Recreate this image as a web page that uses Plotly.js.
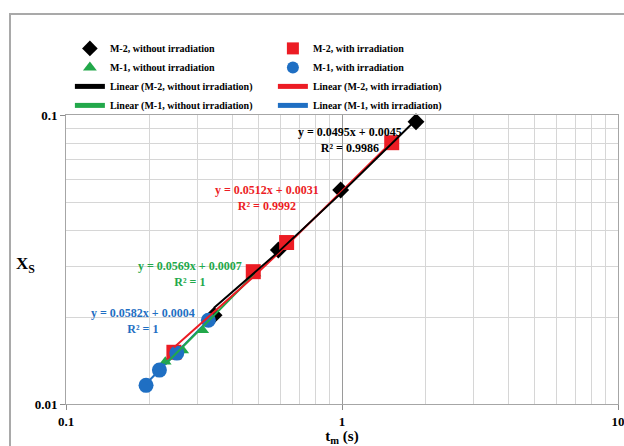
<!DOCTYPE html>
<html>
<head>
<meta charset="utf-8">
<script src="https://cdn.plot.ly/plotly-3.0.1.min.js"></script>
<style>
  html, body { margin: 0; padding: 0; background: #fff; overflow: hidden; }
  #wrap { position: relative; width: 624px; height: 446px; }
  #frame { position: absolute; left: 9px; top: 13px; width: 700px; height: 500px;
           border-left: 2px solid #a9a9a9; border-top: 2px solid #a9a9a9; pointer-events: none; }
  #chart { position: absolute; left: 0; top: 0; width: 624px; height: 446px; }
</style>
</head>
<body>
<div id="wrap">
  <div id="chart"></div>
  <div id="frame"></div>
</div>
<script>
// ---- data ----
const m2NoIrrT = [0.344, 0.588, 0.989, 1.854];
const m2NoIrrX = [0.0203, 0.0341, 0.0550, 0.0948];
const m2IrrT   = [0.246, 0.477, 0.630, 1.514];
const m2IrrX   = [0.0151, 0.0287, 0.0362, 0.0802];
const m1NoIrrT = [0.229, 0.265, 0.313, 0.484];
const m1NoIrrX = [0.0140, 0.0153, 0.0180, 0.0283];
const m1IrrT   = [0.195, 0.218, 0.252, 0.328];
const m1IrrX   = [0.0116, 0.0131, 0.0150, 0.0195];

const seriesNames = ["M-2, without irradiation", "M-2, with irradiation",
                     "M-1, without irradiation", "M-1, with irradiation"];
const trendSlopes     = [0.0495, 0.0512, 0.0569, 0.0582];
const trendIntercepts = [0.0045, 0.0031, 0.0007, 0.0004];
const trendR2         = ["0.9986", "0.9992", "1", "1"];

const xTickVals = [0.1, 1, 10];
const xTickText = ["0.1", "1", "10"];
const yTickVals = [0.01, 0.1];
const yTickText = ["0.01", "0.1"];

// ---- styling ----
const colors  = ["#000000", "#ec1c24", "#22a84a", "#1f6fc3"];
const symbols = ["diamond", "square", "triangle-up", "circle"];
const sizes   = [13, 15, 11, 15];
const serif = "'Times New Roman', 'Liberation Serif', serif";

const xs = [m2NoIrrT, m2IrrT, m1NoIrrT, m1IrrT];
const ys = [m2NoIrrX, m2IrrX, m1NoIrrX, m1IrrX];

// marker traces (draw order: black, green, red, blue; legend order via legendrank)
const markerOrder = [0, 2, 1, 3];
const traces = [];
markerOrder.forEach(i => {
  traces.push({
    type: "scatter", mode: "markers",
    x: xs[i], y: ys[i], name: seriesNames[i],
    legendrank: i + 1,
    marker: { symbol: symbols[i], size: sizes[i], color: colors[i] },
    cliponaxis: false
  });
});
// linear trendlines evaluated from the displayed equations at the series' own t values
const lineOrder = [3, 2, 1, 0];
lineOrder.forEach(i => {
  traces.push({
    type: "scatter", mode: "lines",
    x: xs[i], y: xs[i].map(t => trendSlopes[i] * t + trendIntercepts[i]),
    name: "Linear (" + seriesNames[i] + ")",
    legendrank: i + 5,
    line: { color: colors[i], width: 2 }
  });
});

function eqText(i) {
  return "y = " + trendSlopes[i].toFixed(4) + "x + " + trendIntercepts[i].toFixed(4) +
         "<br>R² = " + trendR2[i];
}
const eqPos = [[0.5145, 0.913], [0.364, 0.713], [0.2246, 0.450], [0.1395, 0.287]];

const annotations = eqPos.map((p, i) => ({
  xref: "paper", yref: "paper", x: p[0], y: p[1],
  xanchor: "center", yanchor: "middle", align: "center",
  text: eqText(i), showarrow: false,
  font: { family: serif, size: 12, color: colors[i], weight: "bold" }
}));
annotations.push({
  xref: "paper", yref: "paper", x: -0.074, y: 0.48,
  xanchor: "center", yanchor: "middle",
  text: "X<sub>S</sub>", showarrow: false,
  font: { family: serif, size: 17, color: "#000", weight: "bold" }
});

const layout = {
  width: 624, height: 446,
  margin: { l: 66, r: 6, t: 115, b: 42, pad: 0, autoexpand: false },
  paper_bgcolor: "#ffffff", plot_bgcolor: "#ffffff",
  font: { family: serif, color: "#000", size: 12, weight: "bold" },
  showlegend: true,
  legend: {
    orientation: "h", xref: "container", yref: "container",
    x: 0.112, y: 0.924, xanchor: "left", yanchor: "top",
    entrywidth: 158, traceorder: "normal",
    font: { family: serif, size: 10, color: "#000", weight: "bold" },
    bgcolor: "rgba(0,0,0,0)", itemsizing: "constant"
  },
  xaxis: {
    type: "log", range: [-1, 1],
    tickmode: "array", tickvals: xTickVals, ticktext: xTickText,
    ticks: "outside", ticklen: 5, tickcolor: "#8c8c8c",
    ticklabeloverflow: "allow",
    tickfont: { family: serif, size: 13, weight: "bold" },
    showline: true, linecolor: "#a6a6a6", linewidth: 1, mirror: true,
    showgrid: true, gridcolor: "#9a9a9a", gridwidth: 1,
    minor: { dtick: "D1", showgrid: true, gridcolor: "#d6d6d6", gridwidth: 1, ticks: "" },
    zeroline: false,
    title: { text: "t<sub>m</sub> (s)", standoff: 4,
             font: { family: serif, size: 15, weight: "bold" } }
  },
  yaxis: {
    type: "log", range: [-2, -1],
    tickmode: "array", tickvals: yTickVals, ticktext: yTickText,
    ticks: "outside", ticklen: 5, tickcolor: "#8c8c8c",
    tickfont: { family: serif, size: 13, weight: "bold" },
    showline: true, linecolor: "#a6a6a6", linewidth: 1, mirror: true,
    showgrid: true, gridcolor: "#d6d6d6", gridwidth: 1,
    minor: { dtick: "D1", showgrid: true, gridcolor: "#d6d6d6", gridwidth: 1, ticks: "" },
    zeroline: false
  },
  annotations: annotations
};

Plotly.newPlot("chart", traces, layout, { staticPlot: true, displayModeBar: false });
</script>
</body>
</html>
